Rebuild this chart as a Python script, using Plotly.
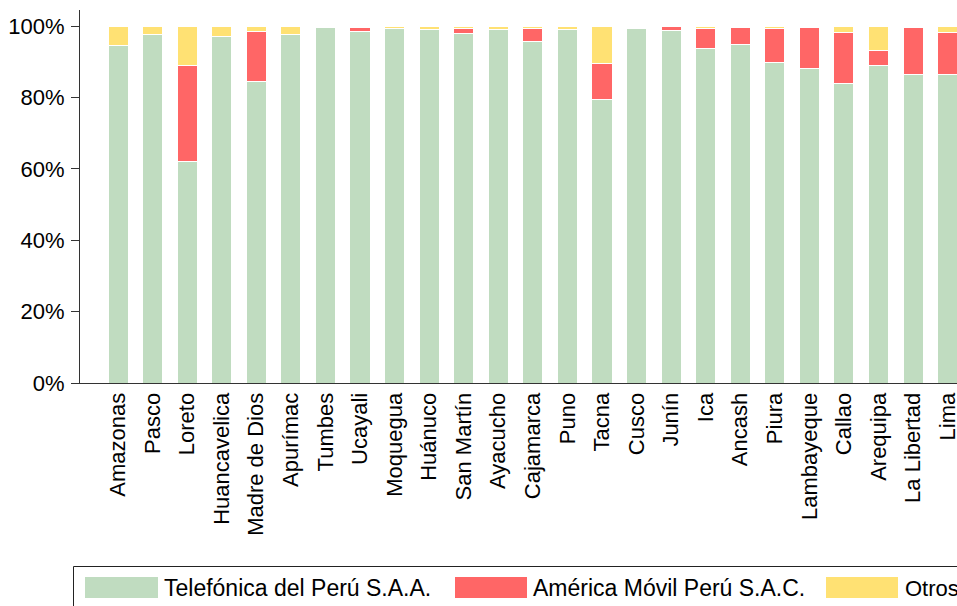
import plotly.graph_objects as go

categories = ["Amazonas", "Pasco", "Loreto", "Huancavelica", "Madre de Dios", "Apurímac",
              "Tumbes", "Ucayali", "Moquegua", "Huánuco", "San Martín", "Ayacucho",
              "Cajamarca", "Puno", "Tacna", "Cusco", "Junín", "Ica", "Ancash", "Piura",
              "Lambayeque", "Callao", "Arequipa", "La Libertad", "Lima"]
telefonica = [94.5, 97.5, 62.0, 97.0, 84.5, 97.7, 99.6, 98.6, 99.3, 99.1, 97.9, 99.0,
              95.6, 98.9, 79.5, 99.3, 98.8, 93.7, 94.8, 89.7, 88.1, 83.8, 88.9, 86.3, 86.3]
america = [0.0, 0.0, 27.0, 0.0, 14.0, 0.0, 0.0, 0.9, 0.0, 0.0, 1.5, 0.0,
           3.6, 0.2, 9.9, 0.2, 1.1, 5.6, 4.8, 9.6, 11.5, 14.5, 4.3, 13.4, 11.8]
otros = [5.5, 2.5, 11.0, 3.0, 1.5, 2.3, 0.4, 0.5, 0.7, 0.9, 0.6, 1.0,
         0.8, 0.9, 10.6, 0.5, 0.1, 0.7, 0.4, 0.7, 0.4, 1.7, 6.8, 0.3, 1.9]
series_names = ["Telefónica del Perú S.A.A.", "América Móvil Perú S.A.C.", "Otros"]
colors = ["#C0DCC0", "#FF6666", "#FFE173"]
y_ticks = [0, 20, 40, 60, 80, 100]
y_tick_labels = ["0%", "20%", "40%", "60%", "80%", "100%"]

FONT = "Liberation Sans, Arial, sans-serif"
W, H = 957, 606
L, R, T, B = 80, 0, 10, 606 - 383
PW, PH = W - L - R, H - T - B

def px(x):  # screen px -> paper
    return (x - L) / PW

def py(y):
    return (383 - y) / PH

fig = go.Figure()
for name, vals, col in zip(series_names, [telefonica, america, otros], colors):
    fig.add_trace(go.Bar(x=categories, y=vals, name=name, marker_color=col,
                         marker_line_color="white", marker_line_width=1,
                         showlegend=False))

shapes = [dict(type="rect", xref="paper", yref="paper",
               x0=px(73.5), x1=px(990), y0=py(566.5), y1=py(640),
               line=dict(color="#222222", width=1), fillcolor="rgba(0,0,0,0)")]
annotations = []
sw = [(85, 158, 162, 23), (455, 527, 531, 23), (826, 898, 903, 22)]
for (a, b, t, fs), name, col in zip(sw, series_names, colors):
    shapes.append(dict(type="rect", xref="paper", yref="paper",
                       x0=px(a), x1=px(b), y0=py(598), y1=py(577),
                       line=dict(width=0), fillcolor=col))
    annotations.append(dict(xref="paper", yref="paper", x=px(t), y=py(588),
                            text=name, showarrow=False, xanchor="left",
                            yanchor="middle",
                            font=dict(family=FONT, size=fs, color="black")))

fig.update_layout(
    width=W, height=H,
    margin=dict(l=L, r=R, t=T, b=B, pad=0),
    barmode="stack", bargap=0.42,
    plot_bgcolor="white", paper_bgcolor="white",
    font=dict(family=FONT, size=22, color="black"),
    shapes=shapes, annotations=annotations,
    showlegend=False,
)
fig.update_xaxes(range=[-1.1, 24.27], showline=True, linecolor="#333333", linewidth=1,
                 ticks="", tickangle=-90, showgrid=False, zeroline=False,
                 automargin=False, ticklabelstandoff=0,
                 tickfont=dict(family=FONT, size=22, color="black"))
fig.update_yaxes(range=[0, 104.5], tickvals=y_ticks, ticktext=y_tick_labels,
                 showline=True, linecolor="#333333", linewidth=1, ticks="outside",
                 ticklen=8, tickcolor="#333333", showgrid=False, zeroline=False,
                 automargin=False, ticklabelstandoff=2,
                 tickfont=dict(family=FONT, size=22, color="black"))

fig.write_html("out.html",
               config={"displayModeBar": False},
               post_script="document.body.style.margin='0';"
                           "document.body.style.overflow='hidden';")
